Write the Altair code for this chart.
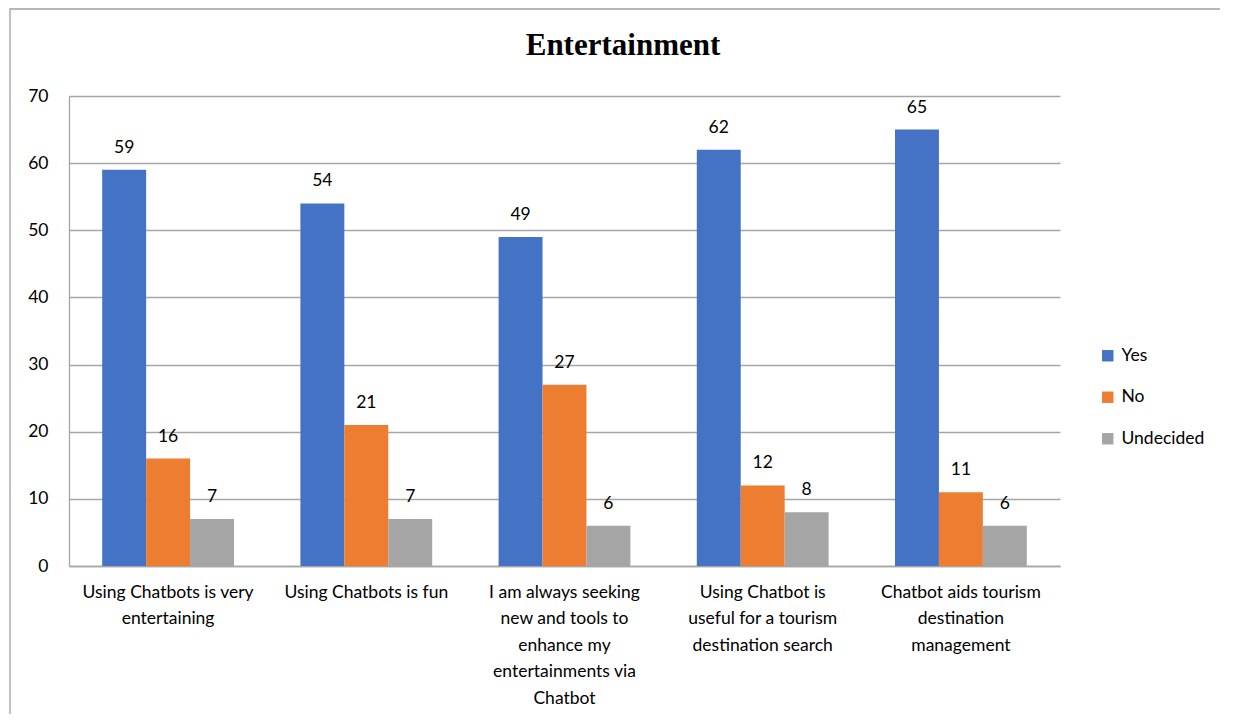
import altair as alt
import pandas as pd

title_text = "Entertainment"
categories = [
    "Using Chatbots is very\nentertaining",
    "Using Chatbots is fun",
    "I am always seeking\nnew and tools to\nenhance my\nentertainments via\nChatbot",
    "Using Chatbot is\nuseful for a tourism\ndestination search",
    "Chatbot aids tourism\ndestination\nmanagement",
]
series = ["Yes", "No", "Undecided"]
yes_vals = [59, 54, 49, 62, 65]
no_vals = [16, 21, 27, 12, 11]
undecided_vals = [7, 7, 6, 8, 6]
colors = ["#4472C4", "#ED7D31", "#A5A5A5"]
y_ticks = [0, 10, 20, 30, 40, 50, 60, 70]

rows = []
for s, vals in zip(series, [yes_vals, no_vals, undecided_vals]):
    for c, v in zip(categories, vals):
        rows.append({"category": c, "series": s, "value": v})
df = pd.DataFrame(rows)

FONT = "Lato"
FS = 17.5
GRID = "#a6a6a6"

x_enc = alt.X(
    "category:N",
    sort=categories,
    scale=alt.Scale(paddingInner=0.335, paddingOuter=0.1675),
    axis=alt.Axis(
        title=None,
        labelAngle=0,
        labelExpr="split(datum.label, '\\n')",
        labelFont=FONT,
        labelFontSize=FS,
        labelColor="#000000",
        labelLineHeight=26.5,
        labelPadding=17,
        labelBaseline="top",
        labelLimit=0,
        ticks=False,
        domainColor=GRID,
        domainWidth=1.3,
        grid=False,
    ),
)
xo_enc = alt.XOffset("series:N", sort=series, scale=alt.Scale(paddingInner=0, paddingOuter=0))
y_enc = alt.Y(
    "value:Q",
    scale=alt.Scale(domain=[0, 70], nice=False),
    axis=alt.Axis(
        title=None,
        values=y_ticks,
        labelFont=FONT,
        labelFontSize=FS,
        labelColor="#000000",
        labelPadding=21,
        ticks=False,
        domain=True,
        domainColor=GRID,
        domainWidth=1.3,
        gridColor=GRID,
        gridWidth=1.3,
    ),
)

bars = alt.Chart(df).mark_bar().encode(
    x=x_enc,
    xOffset=xo_enc,
    y=y_enc,
    color=alt.Color(
        "series:N",
        sort=series,
        scale=alt.Scale(domain=series, range=colors),
        legend=alt.Legend(
            title=None,
            orient="none",
            legendX=1030,
            legendY=251,
            symbolType="square",
            symbolSize=130,
            symbolStrokeWidth=0,
            labelFont=FONT,
            labelFontSize=FS,
            labelColor="#000000",
            labelOffset=5,
            rowPadding=22.5,
        ),
    ),
)

labels = alt.Chart(df).mark_text(
    font=FONT, fontSize=FS, color="#000000", baseline="alphabetic", dy=-17
).encode(
    x=alt.X("category:N", sort=categories),
    xOffset=alt.XOffset("series:N", sort=series),
    y="value:Q",
    text="value:Q",
)

border = alt.Chart(pd.DataFrame({"k": [0]})).mark_rect(
    fill=None, stroke="#a0a0a0", strokeWidth=1.3, clip=False
).encode(
    x=alt.value(-59), x2=alt.value(1300), y=alt.value(-87), y2=alt.value(800)
)

title = alt.Chart(pd.DataFrame({"t": [title_text]})).mark_text(
    font="Liberation Serif", fontSize=31, fontWeight="bold", color="#000000",
    align="center", baseline="middle", clip=False
).encode(
    text="t:N", x=alt.value(554), y=alt.value(-50)
)

chart = (
    alt.layer(border, bars, labels, title)
    .properties(
        width=991,
        height=470,
        padding={"left": 61, "top": 88, "right": 160, "bottom": 148},
        autosize=alt.AutoSizeParams(type="none"),
    )
    .configure_view(stroke=None)
)

chart.save("out.html", embed_options={"renderer": "svg", "actions": False})
